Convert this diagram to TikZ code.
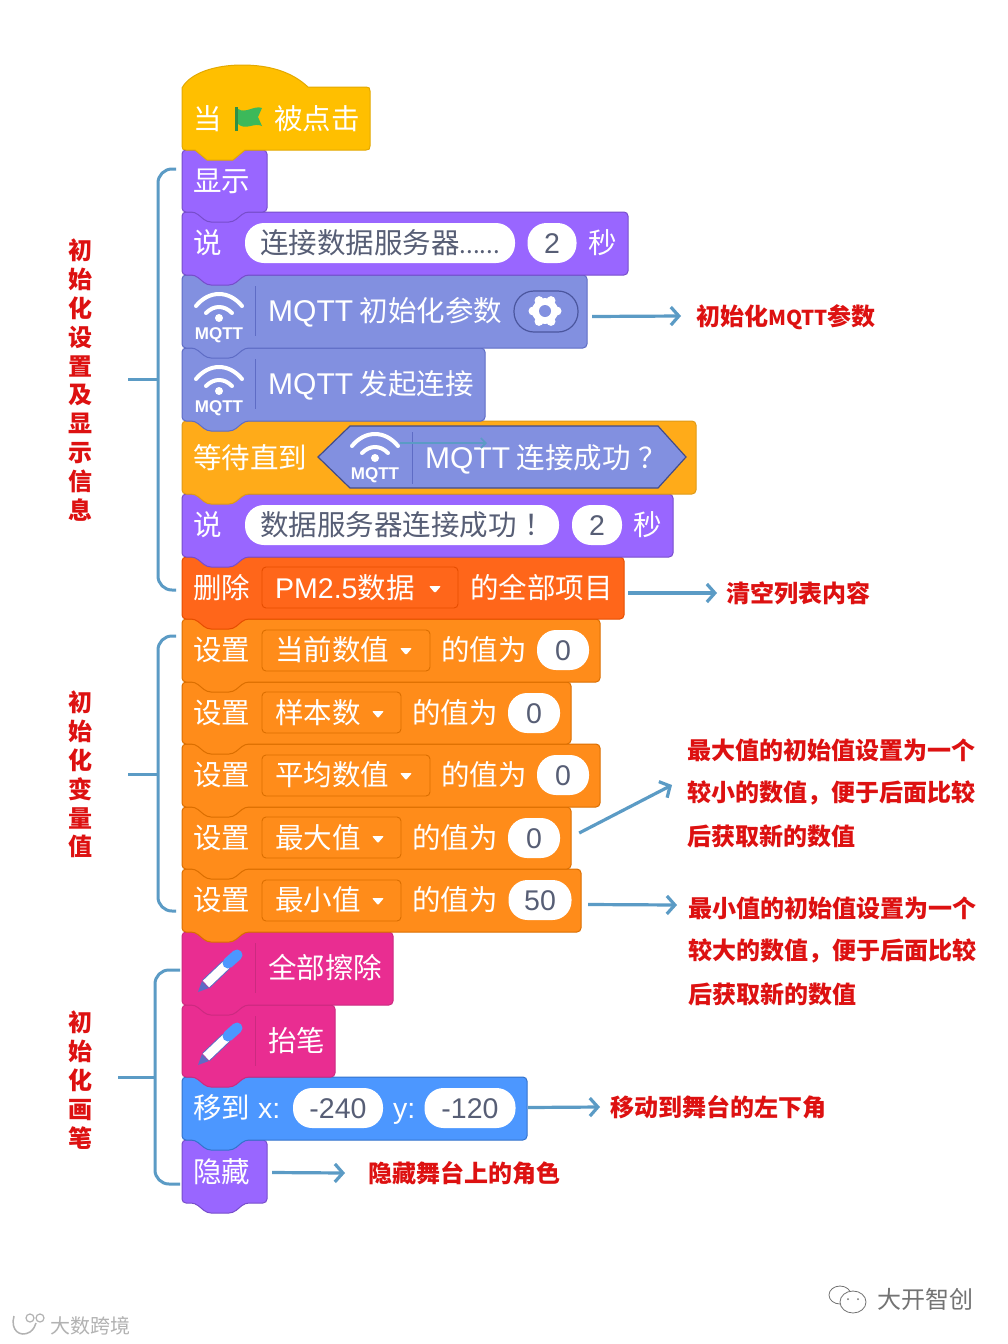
\documentclass[tikz,border=0pt]{standalone}
\usepackage{fontspec}
\setmainfont{Noto Sans CJK SC}
\newfontfamily\lat{Liberation Sans}
\usetikzlibrary{arrows.meta}
\definecolor{cHat}{HTML}{FFBF00}\definecolor{eHat}{HTML}{E3A900}
\definecolor{cLook}{HTML}{9966FF}\definecolor{eLook}{HTML}{774DCB}
\definecolor{cMq}{HTML}{8290E0}\definecolor{eMq}{HTML}{5E6CC5}
\definecolor{cWait}{HTML}{FFAB19}\definecolor{eWait}{HTML}{DF9A17}
\definecolor{cDel}{HTML}{FF661A}\definecolor{eDel}{HTML}{E64D00}
\definecolor{cVar}{HTML}{FF8C1A}\definecolor{eVar}{HTML}{DB6E00}
\definecolor{cPen}{HTML}{E92D91}\definecolor{ePen}{HTML}{CC2A80}
\definecolor{cMove}{HTML}{4C97FF}\definecolor{eMove}{HTML}{3373CC}
\definecolor{lineblue}{HTML}{5B9BC5}
\definecolor{redlab}{HTML}{DD1111}
\definecolor{darktxt}{HTML}{575E75}
\definecolor{flagG}{HTML}{3CB95A}\definecolor{flagP}{HTML}{2F8F47}
\tikzset{
  blocktxt/.style={font=\fontsize{28.5}{30}\selectfont,text=white,anchor=west,inner sep=0pt,text height=22pt,text depth=1pt},
  pilltxt/.style={font=\fontsize{28.5}{30}\selectfont,text=darktxt,fill=white,rounded corners=19pt,inner sep=0pt,text height=22pt,text depth=1pt},
  redtxt/.style={font=\fontsize{24}{24}\selectfont\bfseries,text=redlab,anchor=west,inner sep=0pt},
  redcol/.style={font=\fontsize{24}{28.8}\selectfont\bfseries,text=redlab,anchor=north,inner sep=0pt,align=center},
  callout/.style={lineblue,line width=3.2pt,-{Straight Barb[length=8pt,width=18pt,line width=3.2pt]}},
  bracket/.style={lineblue,line width=3pt,rounded corners=14pt},
  stub/.style={lineblue,line width=3pt},
  dropbox/.style={line width=.9pt,rounded corners=4pt},
  tinybox/.style={inner sep=0pt}
}
\newcommand\bblock[6]{%
  \pgfmathsetmacro\bcx{(182+#4)/2}\pgfmathsetmacro\bcy{(#2+#3)/2}%
  \pgfmathsetmacro\bw{#4-182}\pgfmathsetmacro\bh{#3-#2}%
  \draw[fill=#5,draw=#6,line width=1pt,rounded corners=4pt] (182,\bcy) -- (182,#2) -- (#4,#2) -- (#4,#3) -- (245,#3) -- (233,#3+10) -- (207,#3+10) -- (195,#3) -- (182,#3) -- cycle;
  \node[tinybox,minimum width=\bw pt,minimum height=\bh pt] (#1) at (\bcx,\bcy) {};
}
% wifi icon: x centre, y reference (block top)
\newcommand\wifi[3]{%
  \draw[white,line width=4pt,line cap=round] (#1-23,#2+31) .. controls (#1-10,#2+15) and (#1+10,#2+15) .. (#1+23,#2+31);
  \draw[white,line width=4pt,line cap=round] (#1-13,#2+38) .. controls (#1-5,#2+30) and (#1+5,#2+30) .. (#1+13,#2+38);
  \fill[white] (#1,#2+43) circle (4pt);
  \node[font=\fontsize{17}{17}\selectfont\lat\bfseries,text=white,inner sep=0pt] (#3) at (#1,#2+60) {MQTT};
}
\newcommand\pencil[1]{%
  \draw[eMq,line width=11pt] (206,#1+52) -- (226,#1+33);
  \draw[white,line width=9pt] (206,#1+52) -- (226,#1+33);
  \draw[cMove,line width=11pt,line cap=round] (228,#1+31) -- (237,#1+23);
  \fill[eMq] (202,#1+49) -- (209,#1+56) -- (198,#1+60) -- cycle;
}
\newcommand\droparrow[2]{\fill[white,rounded corners=1pt] (#1-6,#2-3) -- (#1+6,#2-3) -- (#1,#2+4) -- cycle;}
\begin{document}
\begin{tikzpicture}[x=1pt,y=-1pt]
\useasboundingbox (0,0) rectangle (1008,1344);
\fill[white] (0,0) rectangle (1008,1344);
% blocks, bottom first so that each bump lies over the next block
\bblock{bHide}{1140}{1203}{267}{cLook}{eLook}
\bblock{bMove}{1077}{1140}{527}{cMove}{eMove}
\bblock{bUp}{1005}{1077}{335}{cPen}{ePen}
\bblock{bErase}{932}{1005}{393}{cPen}{ePen}
\bblock{bMin}{869}{932}{581}{cVar}{eVar}
\bblock{bMax}{807}{869}{571}{cVar}{eVar}
\bblock{bAvg}{744}{807}{600}{cVar}{eVar}
\bblock{bNum}{682}{744}{571}{cVar}{eVar}
\bblock{bCur}{619}{682}{600}{cVar}{eVar}
\bblock{bDel}{557}{619}{624}{cDel}{eDel}
\bblock{bSay2}{494}{557}{673}{cLook}{eLook}
\bblock{bWait}{421}{494}{696}{cWait}{eWait}
\bblock{bConn}{348}{421}{485}{cMq}{eMq}
\bblock{bInit}{275}{348}{587}{cMq}{eMq}
\bblock{bSay1}{212}{275}{628}{cLook}{eLook}
\bblock{bShow}{150}{212}{267}{cLook}{eLook}
% hat
\draw[fill=cHat,draw=eHat,line width=1pt] (182,120) -- (182,88) .. controls (190,73) and (215,65) .. (242,65) .. controls (270,65) and (292,72) .. (308,87) -- (366,87) .. controls (369,87) and (370,88) .. (370,91) -- (370,146) .. controls (370,149) and (369,150) .. (366,150) -- (245,150) -- (233,160) -- (207,160) -- (195,150) -- (186,150) .. controls (183,150) and (182,149) .. (182,146) -- cycle;
\node[blocktxt] (tWhen) at (193,119) {当};
\node[blocktxt] (tClick) at (274,119) {被点击};
\fill[flagP] (235,107) rectangle (238,131);
\fill[flagG] (238,109) .. controls (246,114) and (254,105) .. (262,108) -- (258,117) -- (262,126) .. controls (254,122) and (246,131) .. (238,124) -- cycle;
% show / say
\node[blocktxt] (tShow) at (193,181) {显示};
\node[blocktxt] (tSay1) at (193,243) {说};
\node[pilltxt,minimum width=270pt,minimum height=40pt] (pS1) at (380,243) {连接数据服务器{\fontsize{24}{30}\selectfont ......}};
\node[pilltxt,minimum width=49pt,minimum height=40pt] (pS1b) at (552,243) {\lat 2};
\node[blocktxt] (tSec1) at (588,243) {秒};
% mqtt init
\draw[eMq,line width=.8pt] (255,286) -- (255,336);
\wifi{219}{275}{iA}
\node[blocktxt] (tInit) at (268,311) {{\fontsize{30}{30}\selectfont\lat MQTT} 初始化参数};
\draw[fill=cMq,draw=eMq!80!black,line width=1.2pt,rounded corners=20pt] (514,291) rectangle (578,332);
\foreach \a in {0,60,...,300}{\fill[white] (545,311) ++(\a:12pt) circle (4.5pt);}
\fill[white] (545,311) circle (13pt);
\fill[cMq] (545,311) circle (6pt);
% mqtt connect
\draw[eMq,line width=.8pt] (255,359) -- (255,409);
\wifi{219}{348}{iB}
\node[blocktxt] (tConn) at (268,384) {{\fontsize{30}{30}\selectfont\lat MQTT} 发起连接};
% wait
\node[blocktxt] (tWait) at (193,458) {等待直到};
\draw[fill=cMq,draw=eMq!70!black,line width=1.2pt] (318,457) -- (350,426) -- (658,426) -- (686,457) -- (658,488) -- (350,488) -- cycle;
\draw[eMq,line width=.8pt] (412,432) -- (412,484);
\wifi{375}{415}{iC}
\node[blocktxt] (tIs) at (425,458) {{\fontsize{30}{30}\selectfont\lat MQTT} 连接成功\hspace{8pt}？};
\coordinate (strayA) at (400,443);
\coordinate (strayB) at (487,443);
\draw[lineblue,line width=1.6pt,-{Straight Barb[length=5pt,width=10pt,line width=1.6pt]}] (strayA) -- (strayB);
% say 2
\node[blocktxt] (tSay2) at (193,525) {说};
\node[pilltxt,minimum width=314pt,minimum height=40pt,text width=314pt,align=left] (pS2) at (402,525) {\hspace{15pt}数据服务器连接成功\hspace{8pt}！};
\node[pilltxt,minimum width=50pt,minimum height=40pt] (pS2b) at (597,525) {\lat 2};
\node[blocktxt] (tSec2) at (633,525) {秒};
% delete
\node[blocktxt] (tDel) at (193,588) {删除};
\draw[dropbox,draw=eDel] (262,567) rectangle (458,608);
\node[blocktxt] (tPm) at (275,588) {{\lat PM2.5}数据};
\droparrow{435}{589}
\node[blocktxt] (tAll) at (470,588) {的全部项目};
% set rows
\node[blocktxt] (s1) at (193,650) {设置};
\draw[dropbox,draw=eVar] (262,630) rectangle (430,671);
\node[blocktxt] (s1v) at (275,650) {当前数值};
\droparrow{406}{651}
\node[blocktxt] (s1w) at (441,650) {的值为};
\node[pilltxt,minimum width=52pt,minimum height=40pt] (s1p) at (563,650) {\lat 0};
\node[blocktxt] (s2) at (193,713) {设置};
\draw[dropbox,draw=eVar] (262,692) rectangle (401,733);
\node[blocktxt] (s2v) at (275,713) {样本数};
\droparrow{378}{714}
\node[blocktxt] (s2w) at (412,713) {的值为};
\node[pilltxt,minimum width=52pt,minimum height=40pt] (s2p) at (534,713) {\lat 0};
\node[blocktxt] (s3) at (193,775) {设置};
\draw[dropbox,draw=eVar] (262,755) rectangle (430,796);
\node[blocktxt] (s3v) at (275,775) {平均数值};
\droparrow{406}{776}
\node[blocktxt] (s3w) at (441,775) {的值为};
\node[pilltxt,minimum width=52pt,minimum height=40pt] (s3p) at (563,775) {\lat 0};
\node[blocktxt] (s4) at (193,838) {设置};
\draw[dropbox,draw=eVar] (262,817) rectangle (401,858);
\node[blocktxt] (s4v) at (275,838) {最大值};
\droparrow{378}{839}
\node[blocktxt] (s4w) at (412,838) {的值为};
\node[pilltxt,minimum width=52pt,minimum height=40pt] (s4p) at (534,838) {\lat 0};
\node[blocktxt] (s5) at (193,900) {设置};
\draw[dropbox,draw=eVar] (262,880) rectangle (401,921);
\node[blocktxt] (s5v) at (275,900) {最小值};
\droparrow{378}{901}
\node[blocktxt] (s5w) at (412,900) {的值为};
\node[pilltxt,minimum width=63pt,minimum height=40pt] (s5p) at (540,900) {\lat 50};
% pen
\draw[ePen,line width=.8pt] (255,943) -- (255,993);
\pencil{932}
\node[blocktxt] (tErase) at (268,968) {全部擦除};
\draw[ePen,line width=.8pt] (255,1016) -- (255,1066);
\pencil{1005}
\node[blocktxt] (tUp) at (268,1041) {抬笔};
% move
\node[blocktxt] (tMove) at (193,1108) {移到};
\node[blocktxt] (tX) at (258,1108) {\lat x:};
\node[pilltxt,minimum width=90pt,minimum height=40pt] (pX) at (338,1108) {\lat -240};
\node[blocktxt] (tY) at (393,1108) {\lat y:};
\node[pilltxt,minimum width=91pt,minimum height=40pt] (pY) at (470,1108) {\lat -120};
\node[blocktxt] (tHide) at (193,1172) {隐藏};
% labels
\node[redtxt] (l1) at (696,317) {初始化{\fontsize{20.5}{24}\selectfont MQTT}参数};
\node[redtxt] (l2) at (726,593) {清空列表内容};
\node[redtxt] (l3a) at (687,750) {最大值的初始值设置为一个};
\node[redtxt] (l3b) at (687,793) {较小的数值，便于后面比较};
\node[redtxt] (l3c) at (687,836) {后获取新的数值};
\node[redtxt] (l4a) at (688,908) {最小值的初始值设置为一个};
\node[redtxt] (l4b) at (688,951) {较大的数值，便于后面比较};
\node[redtxt] (l4c) at (688,994) {后获取新的数值};
\node[redtxt] (l5) at (610,1107) {移动到舞台的左下角};
\node[redtxt] (l6) at (368,1173) {隐藏舞台上的角色};
\node[redcol] (v1) at (80,239) {初\\始\\化\\设\\置\\及\\显\\示\\信\\息};
\node[redcol] (v2) at (80,691) {初\\始\\化\\变\\量\\值};
\node[redcol] (v3) at (80,1011) {初\\始\\化\\画\\笔};
% callout arrows
\draw[callout] ([shift={(5,5)}]bInit.east) -- ([shift={(-15,-1)}]l1.west);
\draw[callout] ([shift={(4,5)}]bDel.east) -- ([shift={(-9,0)}]l2.west);
\draw[callout] ([shift={(8,-5)}]bMax.east) -- ([shift={(-15,-8)}]l3b.west);
\draw[callout] ([shift={(7,4)}]bMin.east) -- ([shift={(-11,-3)}]l4a.west);
\draw[callout] ([shift={(1,-1)}]bMove.east) -- ([shift={(-10,0)}]l5.west);
\draw[callout] ([shift={(5,1)}]bHide.east) -- ([shift={(-23,0)}]l6.west);
% brackets
\coordinate (br1a) at (176,169);\coordinate (br1b) at (176,590);\coordinate (br1m) at (128,379);
\draw[bracket] (br1a) -- (158,169) -- (158,590) -- (br1b);
\draw[stub] (br1m) -- (158,379);
\coordinate (br2a) at (176,636);\coordinate (br2b) at (176,911);\coordinate (br2m) at (128,774);
\draw[bracket] (br2a) -- (158,636) -- (158,911) -- (br2b);
\draw[stub] (br2m) -- (158,774);
\coordinate (br3a) at (180,970);\coordinate (br3b) at (180,1184);\coordinate (br3m) at (118,1077);
\draw[bracket] (br3a) -- (155,970) -- (155,1184) -- (br3b);
\draw[stub] (br3m) -- (155,1077);
% watermarks
\node[font=\fontsize{24}{24}\selectfont,text=black!55,inner sep=0pt,anchor=west] (wm1) at (877,1299) {大开智创};
\draw[black!55,line width=.8pt] (840,1295) ellipse (11pt and 9pt);
\draw[black!55,line width=.8pt,fill=white] (853,1302) ellipse (13pt and 11pt);
\fill[black!55] (848,1299) circle (1pt) (858,1299) circle (1pt);
\node[font=\fontsize{20}{20}\selectfont,text=black!30,inner sep=0pt,anchor=west] (wm2) at (50,1326) {大数跨境};
\draw[black!30,line width=1.5pt] (14,1316) .. controls (10,1330) and (20,1338) .. (30,1332) .. controls (34,1329) and (35,1326) .. (36,1323);
\draw[black!30,line width=1.2pt] (30,1318) circle (4pt) (40,1318) circle (4pt);
\end{tikzpicture}
\end{document}
